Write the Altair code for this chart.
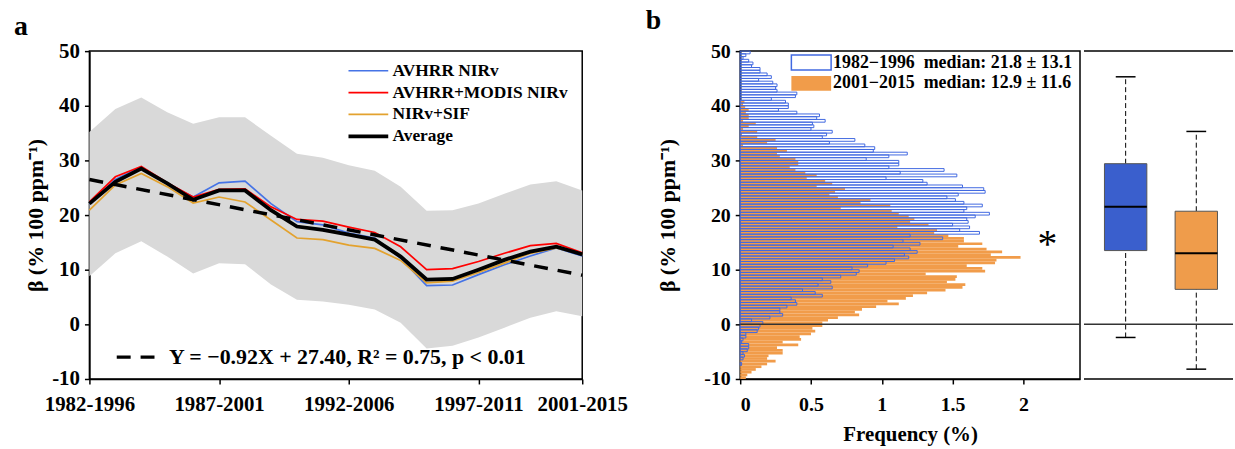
import altair as alt
import pandas as pd

FONT = "Liberation Serif"

# ---------------- panel a data ----------------
windows = ["1982-1996", "1983-1997", "1984-1998", "1985-1999", "1986-2000",
           "1987-2001", "1988-2002", "1989-2003", "1990-2004", "1991-2005",
           "1992-2006", "1993-2007", "1994-2008", "1995-2009", "1996-2010",
           "1997-2011", "1998-2012", "1999-2013", "2000-2014", "2001-2015"]
axis_windows = ["1982-1996", "1987-2001", "1992-2006", "1997-2011", "2001-2015"]

avhrr_nirv = [22.0, 26.5, 28.8, 25.8, 23.3, 25.9, 26.2, 22.1, 18.8, 18.2,
              16.7, 15.8, 12.1, 7.1, 7.2, 9.1, 10.9, 12.5, 14.0, 12.5]
avhrr_modis_nirv = [22.4, 27.0, 28.9, 25.9, 23.3, 24.7, 24.8, 21.5, 19.2, 18.9,
                    17.8, 16.8, 14.2, 10.0, 10.2, 11.5, 13.0, 14.4, 14.8, 13.1]
nirv_sif = [20.9, 25.5, 27.6, 25.2, 22.2, 23.3, 22.4, 19.1, 15.8, 15.5,
            14.5, 13.9, 11.7, 7.6, 7.9, 9.5, 11.2, 13.0, 14.0, 12.8]
average = [22.1, 26.1, 28.5, 25.8, 22.8, 24.5, 24.5, 20.9, 17.9, 17.3,
           16.4, 15.5, 12.4, 8.2, 8.3, 10.0, 11.8, 13.3, 14.2, 12.8]
band_upper = [35.2, 39.4, 41.5, 38.8, 36.7, 37.9, 37.9, 34.5, 31.2, 30.5,
              29.1, 28.1, 25.2, 20.8, 20.9, 22.1, 23.9, 25.6, 26.2, 24.5]
band_lower = [8.8, 13.0, 15.2, 12.4, 9.3, 11.2, 11.0, 7.3, 4.5, 4.2,
              3.6, 2.7, 0.3, -4.4, -3.9, -2.4, -0.6, 1.2, 2.4, 1.5]
trend_ends = [26.5, 9.0]
trend_label = "Y = \u22120.92X + 27.40, R\u00b2 = 0.75, p < 0.01"

series_names = ["AVHRR NIRv", "AVHRR+MODIS NIRv", "NIRv+SIF", "Average"]
series_colors = ["#4573E6", "#FF0000", "#E3A22E", "#000000"]
thin_width = 1.7
thick_width = 3.8
series_values = [avhrr_nirv, avhrr_modis_nirv, nirv_sif, average]

# ---------------- panel b data ----------------
# histogram frequencies (%), 0.5-wide bins listed from 50 down to -10
freq_1982_1996 = [
    0.07, 0.04, 0.02, 0.06, 0.09, 0.08, 0.14, 0.14, 0.19, 0.22, 0.13, 0.23, 0.26, 0.25, 0.26, 0.40, 0.39, 0.22, 0.32, 0.34,
    0.34, 0.27, 0.40, 0.56, 0.54, 0.60, 0.51, 0.52, 0.50, 0.65, 0.61, 0.58, 0.81, 0.63, 0.88, 0.95, 0.94, 1.18, 1.05, 0.89,
    1.12, 1.12, 1.05, 1.44, 1.13, 1.53, 1.03, 1.29, 1.32, 1.57, 1.72, 1.73, 1.54, 1.46, 1.52, 1.58, 1.71, 1.60, 1.58, 1.76,
    1.66, 1.60, 1.61, 1.50, 1.62, 1.55, 1.69, 1.20, 1.43, 1.15, 1.27, 1.08, 1.20, 1.25, 1.16, 1.19, 1.09, 1.03, 0.90, 0.79,
    0.84, 0.82, 0.71, 0.58, 0.64, 0.55, 0.65, 0.44, 0.53, 0.58, 0.36, 0.39, 0.40, 0.33, 0.28, 0.28, 0.30, 0.21, 0.08, 0.16,
    0.14, 0.13, 0.12, 0.04, 0.04, 0.02, 0.01, 0.06, 0.06, 0.05, 0.02, 0.03, 0.02, 0.00, 0.01, 0.00, 0.00, 0.00, 0.00, 0.00]
freq_2001_2015 = [
    0.00, 0.00, 0.00, 0.00, 0.00, 0.00, 0.00, 0.00, 0.00, 0.00, 0.00, 0.00, 0.00, 0.00, 0.00, 0.00, 0.00, 0.00, 0.03, 0.02,
    0.035, 0.06, 0.04, 0.06, 0.06, 0.02, 0.11, 0.06, 0.02, 0.12, 0.01, 0.12, 0.25, 0.19, 0.02, 0.26, 0.33, 0.26, 0.28, 0.39,
    0.41, 0.41, 0.35, 0.39, 0.46, 0.54, 0.47, 0.60, 0.65, 0.54, 0.74, 0.67, 0.63, 0.69, 0.92, 0.85, 1.06, 0.71, 1.07, 1.12,
    1.19, 1.23, 1.20, 1.33, 1.11, 1.39, 1.37, 1.47, 1.58, 1.58, 1.71, 1.54, 1.74, 1.85, 1.77, 1.98, 1.81, 1.80, 1.60, 1.71,
    1.73, 1.31, 1.53, 1.52, 1.46, 1.59, 1.57, 1.45, 1.32, 1.22, 1.17, 1.04, 1.12, 0.96, 0.86, 0.81, 0.84, 0.69, 0.62, 0.58,
    0.58, 0.51, 0.53, 0.50, 0.42, 0.43, 0.30, 0.41, 0.26, 0.30, 0.30, 0.20, 0.19, 0.25, 0.19, 0.15, 0.11, 0.08, 0.05, 0.04]
bin_top = 50.0
bin_width = 0.5

period_labels = ["1982\u22121996\u00a0 median: 21.8 \u00b1 13.1",
                 "2001\u22122015\u00a0 median: 12.9 \u00b1 11.6"]
hist_fill = ["transparent", "#F19C4A"]
hist_stroke = ["#4169E1", "transparent"]

# box plot summaries: lower whisker, Q1, median, Q3, upper whisker
box_groups = ["1982-1996", "2001-2015"]
box_pos = [1, 2]
box_low = [-2.4, -8.2]
box_q1 = [13.5, 6.4]
box_median = [21.5, 13.0]
box_q3 = [29.4, 20.7]
box_high = [45.3, 35.3]
box_colors = ["#3A5FCD", "#EF9C4B"]

# ---------------- frames ----------------
lines_rows = []
for name, vals in zip(series_names, series_values):
    for w, v in zip(windows, vals):
        lines_rows.append({"window": w, "beta": v, "series": name})
lines_df = pd.DataFrame(lines_rows)
thin_df = lines_df[lines_df["series"] != "Average"]
avg_df = lines_df[lines_df["series"] == "Average"]
band_df = pd.DataFrame({"window": windows, "lower": band_lower, "upper": band_upper})
trend_df = pd.DataFrame({"window": [windows[0], windows[-1]], "beta": trend_ends,
                         "fit": [trend_label, trend_label]})

def hist_frame(freqs, label):
    rows = []
    for k, f in enumerate(freqs):
        if f <= 0:
            continue
        hi = bin_top - bin_width * k
        rows.append({"x0": 0.0, "freq": f, "lo": hi - bin_width, "hi": hi, "period": label})
    return pd.DataFrame(rows)

hist_old = hist_frame(freq_1982_1996, period_labels[0])
hist_new = hist_frame(freq_2001_2015, period_labels[1])

box_df = pd.DataFrame({"group": box_groups, "pos": box_pos, "low": box_low, "q1": box_q1,
                       "med": box_median, "q3": box_q3, "high": box_high, "color": box_colors})

one = alt.Data(values=[{"k": 1}])
hyphen_labels = "replace(datum.label, '\u2212', '-')"

# ---------------- panel a ----------------
beta_title = "\u03b2 (% 100 ppm\u207b\u00b9)"
xa = alt.X("window:N", scale=alt.Scale(type="point", padding=0, domain=windows),
           axis=alt.Axis(values=axis_windows, title=None, labelAngle=0, labelFontSize=21,
                         labelPadding=10, tickSize=5, labelOverlap=False))
ya_axis = alt.Axis(values=list(range(-10, 51, 10)), title=beta_title, labelFontSize=21,
                   titleFontSize=22, labelPadding=5, tickSize=5, titlePadding=4,
                   labelExpr=hyphen_labels)
ya_scale = alt.Scale(domain=[-10, 50], nice=False)

band = alt.Chart(band_df).mark_area(color="#D9D9D9").encode(
    x=xa, y=alt.Y("lower:Q", scale=ya_scale, axis=ya_axis), y2="upper:Q")

series_legend = alt.Legend(
    title=None, orient="none", legendX=272, legendY=11,
    symbolType="M-4,0H4", symbolSize=100, labelFontSize=17.5,
    labelOffset=15.5, rowPadding=3, labelLimit=400, padding=0,
    symbolStrokeWidth=alt.ExprRef(
        expr="datum.value === 'Average' ? %s : %s" % (thick_width, thin_width)))
series_color = alt.Color("series:N", scale=alt.Scale(domain=series_names, range=series_colors),
                         legend=series_legend)

thin_lines = alt.Chart(thin_df).mark_line(strokeWidth=thin_width).encode(
    x=xa, y=alt.Y("beta:Q", scale=ya_scale, axis=ya_axis), color=series_color)
avg_line = alt.Chart(avg_df).mark_line(strokeWidth=thick_width).encode(
    x=xa, y=alt.Y("beta:Q", scale=ya_scale, axis=ya_axis), color=series_color)

trend = alt.Chart(trend_df).mark_line(color="black", strokeWidth=3.5).encode(
    x=xa,
    y=alt.Y("beta:Q", scale=ya_scale, axis=ya_axis),
    strokeDash=alt.StrokeDash("fit:N", scale=alt.Scale(domain=[trend_label], range=[[14, 10]]),
                              legend=alt.Legend(title=None, orient="none", legendX=40, legendY=297,
                                                symbolType="M-4.7,0H4.7", symbolSize=100,
                                                symbolStrokeColor="black", symbolStrokeWidth=3.5,
                                                labelFontSize=22, labelOffset=18, labelLimit=700,
                                                padding=0)),
)

letter_a = alt.Chart(one).mark_text(text="a", font=FONT, fontSize=28, fontWeight="bold",
                                    align="left", baseline="alphabetic", color="black").encode(
    x=alt.value(-76), y=alt.value(-16))

panel_a = alt.layer(band, thin_lines, avg_line, trend, letter_a).properties(width=496, height=330)

# ---------------- panel b: histogram ----------------
fx = alt.Scale(domain=[0, 2.4], nice=False)
fy = alt.Scale(domain=[-10, 50], nice=False)
hx_axis = alt.Axis(values=[0, 0.5, 1, 1.5, 2], format="~g", title="Frequency (%)", labelFontSize=20,
                   titleFontSize=21, labelPadding=11, titlePadding=9, tickSize=5)
hy_axis = alt.Axis(values=list(range(-10, 51, 10)), title=beta_title, labelFontSize=20,
                   titleFontSize=22, titlePadding=24, labelPadding=5, tickSize=5,
                   labelExpr=hyphen_labels)
hist_legend = alt.Legend(title=None, orient="none", legendX=62.5, legendY=2.5,
                         symbolType="M-4,-1.5H4V1.5H-4Z", symbolSize=100, symbolStrokeWidth=1.5,
                         labelFontSize=18, labelOffset=13, rowPadding=-1, labelLimit=500,
                         padding=0)
fill_enc = alt.Fill("period:N", scale=alt.Scale(domain=period_labels, range=hist_fill), legend=hist_legend)
stroke_enc = alt.Stroke("period:N", scale=alt.Scale(domain=period_labels, range=hist_stroke), legend=hist_legend)

bars_new = alt.Chart(hist_new).mark_rect(strokeWidth=1).encode(
    x=alt.X("x0:Q", scale=fx, axis=hx_axis), x2="freq:Q",
    y=alt.Y("lo:Q", scale=fy, axis=hy_axis), y2="hi:Q",
    fill=fill_enc, stroke=stroke_enc)
bars_old = alt.Chart(hist_old).mark_rect(strokeWidth=1).encode(
    x=alt.X("x0:Q", scale=fx, axis=hx_axis), x2="freq:Q",
    y=alt.Y("lo:Q", scale=fy, axis=hy_axis), y2="hi:Q",
    fill=fill_enc, stroke=stroke_enc)
zero_h = alt.Chart(one).mark_rule(color="#333333", strokeWidth=1.5).encode(y=alt.datum(0))
star = alt.Chart(one).mark_text(text="*", font=FONT, fontSize=40, color="black",
                                baseline="middle", align="center").encode(
    x=alt.datum(2.17), y=alt.datum(14.5))
letter_b = alt.Chart(one).mark_text(text="b", font=FONT, fontSize=28, fontWeight="bold",
                                    align="left", baseline="alphabetic", color="black").encode(
    x=alt.value(-95), y=alt.value(-22))

panel_hist = alt.layer(bars_new, bars_old, zero_h, star, letter_b).properties(width=342, height=330)

# ---------------- panel b: box plots ----------------
bx = alt.Scale(domain=[0.41, 2.52], nice=False, zero=False)
by = alt.Scale(domain=[-10, 50], nice=False)
base_box = alt.Chart(box_df).transform_calculate(
    xl="datum.pos - 0.3", xr="datum.pos + 0.3", cl="datum.pos - 0.14", cr="datum.pos + 0.14")

wl = base_box.mark_rule(color="black", strokeWidth=1, strokeDash=[5, 3]).encode(
    x=alt.X("pos:Q", scale=bx, axis=None), y=alt.Y("low:Q", scale=by, axis=None), y2="q1:Q")
wh = base_box.mark_rule(color="black", strokeWidth=1, strokeDash=[5, 3]).encode(
    x=alt.X("pos:Q", scale=bx, axis=None), y=alt.Y("q3:Q", scale=by, axis=None), y2="high:Q")
boxes = base_box.mark_rect(stroke="#555555", strokeWidth=1).encode(
    x=alt.X("xl:Q", scale=bx, axis=None), x2="xr:Q",
    y=alt.Y("q1:Q", scale=by, axis=None), y2="q3:Q",
    fill=alt.Fill("color:N", scale=None))
meds = base_box.mark_rule(color="black", strokeWidth=2).encode(
    x=alt.X("xl:Q", scale=bx, axis=None), x2="xr:Q", y=alt.Y("med:Q", scale=by, axis=None))
cap_l = base_box.mark_rule(color="black", strokeWidth=1.5).encode(
    x=alt.X("cl:Q", scale=bx, axis=None), x2="cr:Q", y=alt.Y("low:Q", scale=by, axis=None))
cap_h = base_box.mark_rule(color="black", strokeWidth=1.5).encode(
    x=alt.X("cl:Q", scale=bx, axis=None), x2="cr:Q", y=alt.Y("high:Q", scale=by, axis=None))
top_b = alt.Chart(one).mark_rule(color="black", strokeWidth=1.5).encode(y=alt.datum(50))
bot_b = alt.Chart(one).mark_rule(color="black", strokeWidth=1.5).encode(y=alt.datum(-10))
zero_b = alt.Chart(one).mark_rule(color="#333333", strokeWidth=1.5).encode(y=alt.datum(0))

panel_box = alt.layer(wl, wh, boxes, meds, cap_l, cap_h, top_b, bot_b, zero_b).properties(
    width=150, height=330, view=alt.ViewBackground(stroke="transparent"))

indep = dict(color="independent", strokeWidth="independent", strokeDash="independent",
             fill="independent", stroke="independent")

right = alt.hconcat(panel_hist, panel_box, spacing=0).resolve_scale(**indep).resolve_legend(**indep)
chart = alt.hconcat(panel_a, right, spacing=16).resolve_scale(**indep).resolve_legend(**indep)

chart = chart.properties(
    padding={"left": 13, "top": 5, "right": 0, "bottom": 0}
).configure_view(stroke="black", strokeWidth=1.5).configure_axis(
    labelFont=FONT, titleFont=FONT, labelFontWeight="bold", titleFontWeight="bold",
    labelColor="black", titleColor="black", domainColor="black", tickColor="black",
    domainWidth=1.5, tickWidth=1.5, grid=False
).configure_legend(labelFont=FONT, labelFontWeight="bold", labelColor="black")

chart.save("out.html", embed_options={"renderer": "svg", "actions": False})
